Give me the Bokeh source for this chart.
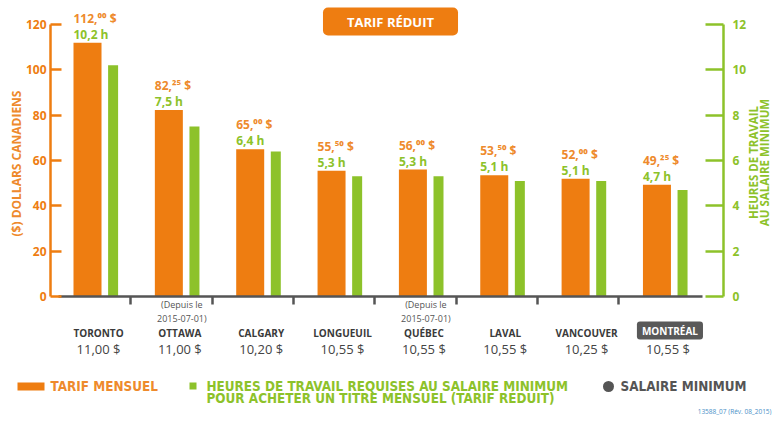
import math
from bokeh.plotting import figure
from bokeh.models import (ColumnDataSource, LinearAxis, Range1d, FixedTicker,
                          CustomJSTickFormatter, Label)
from bokeh.core.properties import value
from bokeh.embed import file_html
from bokeh.resources import INLINE

# ---------------- data ----------------
cities = ["TORONTO", "OTTAWA", "CALGARY", "LONGUEUIL", "QUÉBEC", "LAVAL", "VANCOUVER", "MONTRÉAL"]
monthly_fare = [112.00, 82.25, 65.00, 55.50, 56.00, 53.50, 52.00, 49.25]
work_hours = [10.2, 7.5, 6.4, 5.3, 5.3, 5.1, 5.1, 4.7]
min_wage = [11.00, 11.00, 10.20, 10.55, 10.55, 10.55, 10.25, 10.55]
notes = ["", "(Depuis le\n2015-07-01)", "", "", "(Depuis le\n2015-07-01)", "", "", ""]
highlight = ["MONTRÉAL"]
dollar_ticks = [0, 20, 40, 60, 80, 100, 120]
hour_ticks = [0, 2, 4, 6, 8, 10, 12]

# ---------------- layout constants ----------------
W, H = 772, 415
OFF = 0              # picture coordinate of the canvas origin
CAT_X0 = 96          # picture x of the first category centre
CAT_W = 81.35        # px per category
ZERO_Y = 296         # picture y of zero
PXD = 2.2667         # px per dollar
PXH = PXD * 10       # px per hour

ORANGE = "#EE7D11"
ORANGE_TXT = "#EE8A2C"
GREEN = "#8DC22A"
GRAY = "#555555"
DARK = "#3A3A3A"
FONT = "Open Sans"
LEG_FONT = "DejaVu Sans Condensed"
LEG_SIZE = "13.4px"


def xd(img_x):
    return (img_x - CAT_X0) / CAT_W


def yd(img_y):
    return (ZERO_Y - img_y) / PXD


ORANGE_OFF, ORANGE_W = -9 / CAT_W, 28 / CAT_W
GREEN_OFF, GREEN_W = 16.6 / CAT_W, 10 / CAT_W

sup = str.maketrans("0123456789", "⁰¹²³⁴⁵⁶⁷⁸⁹")


def fare_txt(v):
    whole, cents = f"{v:.2f}".split(".")
    return f"{whole},{cents.translate(sup)} $"


idx = list(range(len(cities)))

p = figure(width=W, height=H,
           x_range=Range1d(xd(OFF), xd(OFF + W)),
           y_range=Range1d(yd(OFF + H), yd(OFF)),
           output_backend="svg", toolbar_location=None, tools="",
           x_axis_location=None, y_axis_location=None,
           min_border=0, min_border_left=0, min_border_right=0,
           min_border_top=0, min_border_bottom=0,
           outline_line_color=None, background_fill_color="white",
           border_fill_color="white")
p.extra_y_ranges = {"hours": Range1d(yd(OFF + H) / 10, yd(OFF) / 10)}
p.grid.visible = False

src = ColumnDataSource(dict(
    xo=[i + ORANGE_OFF for i in idx],
    xg=[i + GREEN_OFF for i in idx],
    xl=[i + ORANGE_OFF - ORANGE_W / 2 for i in idx],
    fare=monthly_fare,
    hours=work_hours,
    fare_y=[f + 24.5 / PXD for f in monthly_fare],
    hours_y=[f + 8.5 / PXD for f in monthly_fare],
    fare_lbl=[fare_txt(f) for f in monthly_fare],
    hours_lbl=[f"{h:.1f}".replace(".", ",") + " h" for h in work_hours],
))

p.vbar(x="xo", top="fare", bottom=0, width=ORANGE_W, source=src,
       fill_color=ORANGE, line_color=None)
p.vbar(x="xg", top="hours", bottom=0, width=GREEN_W, source=src,
       y_range_name="hours", fill_color=GREEN, line_color=None)

p.text(x="xl", y="fare_y", text="fare_lbl", source=src, text_align="left",
       text_baseline="middle", text_color=ORANGE_TXT, text_font=value(FONT),
       text_font_style="bold", text_font_size="12px")
p.text(x="xl", y="hours_y", text="hours_lbl", source=src,
       text_align="left", text_baseline="middle", text_color=GREEN,
       text_font=value(FONT), text_font_style="bold", text_font_size="12px")

# ---------------- axes ----------------
ax_l = LinearAxis(fixed_location=xd(50), bounds=(0, 120),
                  ticker=FixedTicker(ticks=dollar_ticks),
                  axis_line_color=ORANGE, axis_line_width=2.5,
                  major_tick_line_color=ORANGE, major_tick_line_width=2.5,
                  major_tick_in=11, major_tick_out=0, minor_tick_line_color=None,
                  major_label_text_color=ORANGE, major_label_text_font=FONT,
                  major_label_text_font_style="bold", major_label_text_font_size="12px",
                  major_label_standoff=4)
p.add_layout(ax_l, "left")

ax_r = LinearAxis(y_range_name="hours", fixed_location=xd(723), bounds=(0, 12),
                  ticker=FixedTicker(ticks=hour_ticks),
                  axis_line_color=GREEN, axis_line_width=2.5,
                  major_tick_line_color=GREEN, major_tick_line_width=2.5,
                  major_tick_in=18, major_tick_out=0, minor_tick_line_color=None,
                  major_label_text_color=GREEN, major_label_text_font=FONT,
                  major_label_text_font_style="bold", major_label_text_font_size="12px",
                  major_label_standoff=9)
p.add_layout(ax_r, "right")

ax_b = LinearAxis(fixed_location=0, bounds=(xd(58), xd(702)),
                  ticker=FixedTicker(ticks=[i + 0.42 for i in idx[:-1]]),
                  formatter=CustomJSTickFormatter(code="return ''"),
                  axis_line_color=GRAY, axis_line_width=2.5,
                  major_tick_line_color=GRAY, major_tick_line_width=2.5,
                  major_tick_in=0, major_tick_out=8, minor_tick_line_color=None)
p.add_layout(ax_b, "below")

# axis titles
p.add_layout(Label(x=xd(16), y=yd(163), text="($) DOLLARS CANADIENS", angle=math.pi / 2,
                   text_align="center", text_baseline="middle", text_color=ORANGE_TXT,
                   text_font=FONT, text_font_style="bold", text_font_size="12px"))
p.add_layout(Label(x=xd(753), y=yd(162), text="HEURES DE TRAVAIL", angle=math.pi / 2,
                   text_align="center", text_baseline="middle", text_color=GREEN,
                   text_font=FONT, text_font_style="bold", text_font_size="11.5px"))
p.add_layout(Label(x=xd(764), y=yd(162), text="AU SALAIRE MINIMUM", angle=math.pi / 2,
                   text_align="center", text_baseline="middle", text_color=GREEN,
                   text_font=FONT, text_font_style="bold", text_font_size="11.5px"))

# title box
p.add_layout(Label(x=xd(390), y=yd(21), text="TARIF RÉDUIT", text_align="center",
                   text_baseline="middle", text_color="white", text_font=FONT,
                   text_font_style="bold", text_font_size="13px",
                   background_fill_color=ORANGE, border_radius=5,
                   padding=dict(left=24, right=24, top=5, bottom=5)))

# ---------------- category texts ----------------
cat_src = ColumnDataSource(dict(
    x=[i + 2 / CAT_W for i in idx if cities[i] not in highlight],
    name=[c for c in cities if c not in highlight],
))
p.text(x="x", y=yd(332), text="name", source=cat_src, text_align="center",
       text_baseline="middle", text_color=DARK, text_font=value(FONT),
       text_font_style="bold", text_font_size="10px")
for i in idx:
    if cities[i] in highlight:
        p.add_layout(Label(x=i + 4 / CAT_W, y=yd(330), text=cities[i], text_align="center",
                           text_baseline="middle", text_color="white", text_font=FONT,
                           text_font_style="bold", text_font_size="10px",
                           background_fill_color="#595959", border_radius=3,
                           padding=dict(left=5, right=5, top=2, bottom=2)))

wage_src = ColumnDataSource(dict(
    x=[i + 2 / CAT_W for i in idx],
    wage=[f"{w:.2f}".replace(".", ",") + " $" for w in min_wage],
))
p.text(x="x", y=yd(348), text="wage", source=wage_src, text_align="center",
       text_baseline="middle", text_color="#444444", text_font=value(FONT),
       text_font_size="13px")

note_src = ColumnDataSource(dict(
    x=[i + 4 / CAT_W for i in idx if notes[i]],
    note=[n for n in notes if n],
))
p.text(x="x", y=yd(311), text="note", source=note_src, text_align="center",
       text_baseline="middle", text_color=GRAY, text_font=value(FONT),
       text_font_size="9px", text_line_height=1.15)

# ---------------- legend ----------------
p.rect(x=xd(30.5), y=yd(386), width=27 / CAT_W, height=8 / PXD,
       fill_color=ORANGE, line_color=None)
p.text(x=xd(50), y=yd(386), text=["TARIF MENSUEL"], text_align="left",
       text_baseline="middle", text_color=ORANGE_TXT, text_font=value(LEG_FONT),
       text_font_style="bold", text_font_size=LEG_SIZE)
p.rect(x=xd(192.5), y=yd(385.5), width=7 / CAT_W, height=7 / PXD,
       fill_color=GREEN, line_color=None)
p.text(x=xd(206), y=yd(392),
       text=["HEURES DE TRAVAIL REQUISES AU SALAIRE MINIMUM\nPOUR ACHETER UN TITRE MENSUEL (TARIF RÉDUIT)"],
       text_align="left", text_baseline="middle", text_color=GREEN,
       text_font=value(LEG_FONT), text_font_style="bold", text_font_size=LEG_SIZE,
       text_line_height=0.8)
p.scatter(x=xd(608), y=yd(386), size=11, marker="circle",
          fill_color=GRAY, line_color=None)
p.text(x=xd(620), y=yd(386), text=["SALAIRE MINIMUM"], text_align="left",
       text_baseline="middle", text_color=GRAY, text_font=value(LEG_FONT),
       text_font_style="bold", text_font_size=LEG_SIZE)
p.text(x=xd(771), y=yd(411), text=["13588_07 (Rév. 08_2015)"], text_align="right",
       text_baseline="middle", text_color="#4A90C8", text_font=value(FONT),
       text_font_size="6.5px")

open("out.html", "w").write(file_html(p, INLINE))
